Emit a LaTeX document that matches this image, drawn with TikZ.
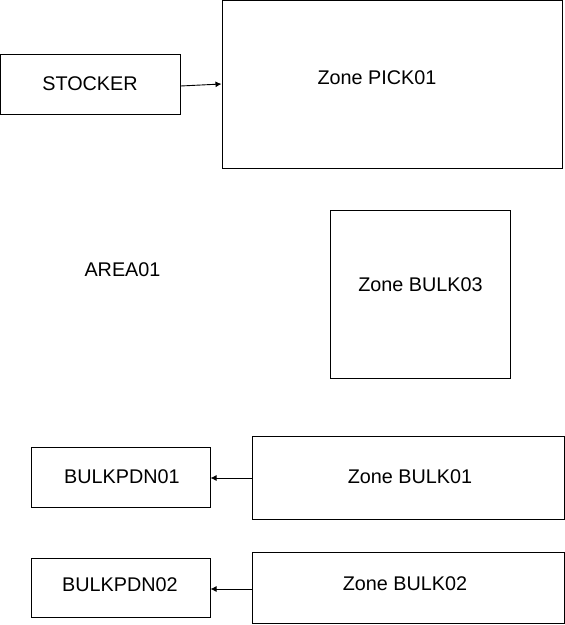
\documentclass[tikz,border=0pt]{standalone}
\usepackage{fontspec}
\setmainfont{Liberation Sans}
\usetikzlibrary{arrows.meta,positioning}

\begin{document}
\begin{tikzpicture}[
  x=1pt, y=-1pt,
  link/.style={-{Latex[length=6pt,width=6pt]}, line width=0.9pt},
  zone/.style={draw=black, line width=1pt, fill=white, inner sep=0pt},
  lbl/.style={font=\fontsize{19.8}{23}\selectfont, inner sep=0pt},
]
  \useasboundingbox (0,0) rectangle (565,625);

  % top row: stocker feeding the pick zone
  \node[zone, minimum width=180pt, minimum height=60pt]  (stk)   at ( 90, 84) {};
  \node[zone, minimum width=340pt, minimum height=168pt] (pick)  at (392, 84) {};
  \node[lbl] (stkT)  at ( 90, 83.5) {STOCKER};
  \node[lbl] (pickT) at (377, 77.5) {Zone PICK01};

  % area name and the bulk03 zone
  \node[lbl] (area)  at (122.5,269.5) {AREA01};
  \node[zone, minimum width=180pt, minimum height=168pt] (bulk3) at (420,294) {};
  \node[lbl] (bulk3T) at (420.5,284.5) {Zone BULK03};

  % bulk zones with their PD nodes on the left
  \node[zone, minimum width=179pt, minimum height=60pt]  (pdn1)  at (120.5,477) {};
  \node[zone, minimum width=312pt, minimum height=83pt]  (bulk1) at (408,477.5) {};
  \node[lbl] (pdn1T)  at (122,477) {BULKPDN01};
  \node[lbl] (bulk1T) at (410,477) {Zone BULK01};

  \node[zone, minimum width=179pt, minimum height=59pt]  (pdn2)  at (120.5,587.5) {};
  \node[zone, minimum width=312pt, minimum height=71pt]  (bulk2) at (408,588) {};
  \node[lbl] (pdn2T)  at (120,585) {BULKPDN02};
  \node[lbl] (bulk2T) at (405,584) {Zone BULK02};

  % flows
  \draw[link] ([yshift=-2pt]stk.east) -- (pick.west);
  \draw[link] (bulk1.west |- 0,478) -- (pdn1.east |- 0,478);
  \draw[link] (bulk2.west |- 0,589) -- (pdn2.east |- 0,589);
\end{tikzpicture}
\end{document}
